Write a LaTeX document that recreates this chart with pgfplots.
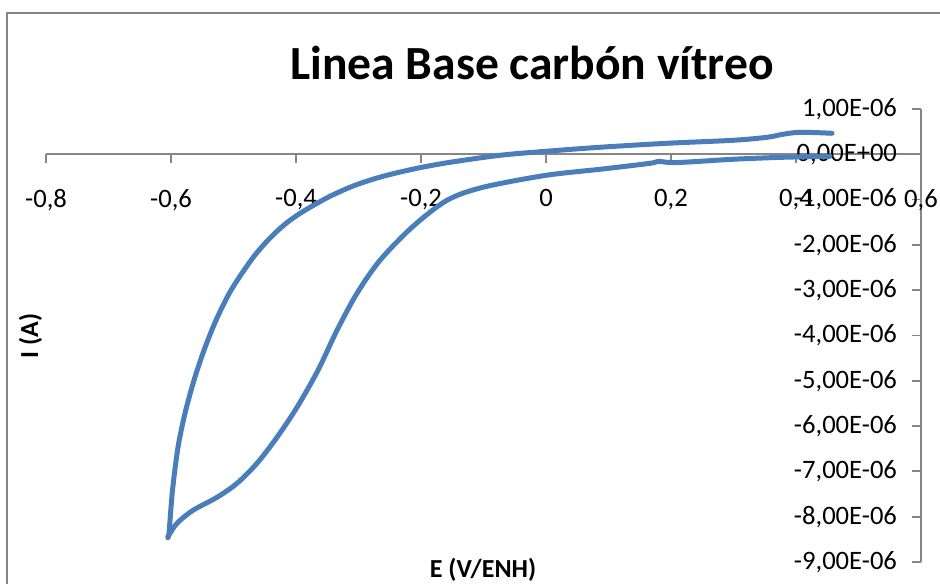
\documentclass[border=0pt]{standalone}
\usepackage{pgfplots}
\pgfplotsset{compat=1.18}
\usepackage{fontspec}
\setmainfont{Carlito}
\definecolor{cvblue}{HTML}{4A7EBB}
\definecolor{axgray}{HTML}{868686}
\begin{document}
\begin{tikzpicture}
\useasboundingbox (-23pt,-10.5pt) rectangle (447pt,281pt);
\begin{axis}[
  at={(0,0)}, anchor=south west,
  width=437.5pt, height=226.5pt, scale only axis,
  xmin=-0.8, xmax=0.6, ymin=-9e-6, ymax=1e-6,
  axis x line=middle, axis y line=right,
  axis line style={draw=axgray, line width=0.9pt, -},
  hide obscured x ticks=false, hide obscured y ticks=false,
  xtick={-0.8,-0.6,-0.4,-0.2,0,0.2,0.4,0.6},
  xticklabels={{-0,8},{-0,6},{-0,4},{-0,2},{0},{0,2},{0,4},{0,6}},
  ytick={-9e-6,-8e-6,-7e-6,-6e-6,-5e-6,-4e-6,-3e-6,-2e-6,-1e-6,0,1e-6},
  yticklabels={{-9,00E-06},{-8,00E-06},{-7,00E-06},{-6,00E-06},{-5,00E-06},{-4,00E-06},{-3,00E-06},{-2,00E-06},{-1,00E-06},{0,00E+00},{1,00E-06}},
  scaled y ticks=false, scaled x ticks=false,
  xtick align=outside, ytick align=inside,
  major tick length=4.5pt,
  tick style={draw=axgray, line width=0.9pt},
  tick label style={font=\fontsize{13.3}{15}\selectfont, text=black},
  xticklabel style={anchor=north, yshift=-9.5pt},
  yticklabel style={anchor=east, xshift=-8.5pt},
]
\addplot[cvblue, line width=2.5pt, smooth, line join=round, line cap=round] coordinates {
(0.4576,0.464e-6) (0.4064,0.486e-6) (0.3792,0.442e-6) (0.3536,0.375e-6) (0.2992,0.309e-6)
(0.1936,0.243e-6) (0.0864,0.155e-6) (0.000,0.066e-6) (-0.0736,-0.022e-6) (-0.1536,-0.177e-6)
(-0.2064,-0.309e-6) (-0.2608,-0.486e-6) (-0.3056,-0.684e-6) (-0.3456,-0.927e-6)
(-0.3856,-1.236e-6) (-0.4096,-1.457e-6) (-0.4288,-1.678e-6) (-0.4496,-1.965e-6)
(-0.472,-2.340e-6) (-0.504,-3.002e-6)
(-0.528,-3.664e-6) (-0.5472,-4.327e-6) (-0.5632,-4.989e-6) (-0.5776,-5.717e-6)
(-0.5888,-6.468e-6) (-0.5976,-7.417e-6) (-0.6032,-8.366e-6) (-0.6048,-8.433e-6)
(-0.5904,-8.146e-6) (-0.5648,-7.859e-6) (-0.5264,-7.572e-6) (-0.4944,-7.263e-6)
(-0.4624,-6.821e-6) (-0.4304,-6.247e-6) (-0.3984,-5.585e-6) (-0.3648,-4.768e-6)
(-0.3344,-3.885e-6) (-0.3024,-3.068e-6) (-0.2656,-2.340e-6) (-0.2144,-1.611e-6)
(-0.1584,-1.015e-6) (-0.1008,-0.728e-6) (0.000,-0.464e-6) (0.0864,-0.331e-6)
(0.1664,-0.199e-6) (0.1792,-0.155e-6) (0.1936,-0.177e-6) (0.2192,-0.177e-6)
(0.2992,-0.110e-6) (0.3792,-0.066e-6) (0.4544,-0.044e-6)
};
\end{axis}
\draw[axgray, line width=1pt] (-19.5pt,-12pt) -- (-19.5pt,274.5pt) -- (448pt,274.5pt);
\node[anchor=base, font=\fontsize{23.8}{28}\selectfont\bfseries] at (243pt,241pt) {Linea Base carbón vítreo};
\node[anchor=base, rotate=90, font=\fontsize{13}{15}\selectfont\bfseries] at (-4pt,113pt) {I (A)};
\node[anchor=base, font=\fontsize{13}{15}\selectfont\bfseries] at (218.5pt,-7.5pt) {E (V/ENH)};
\end{tikzpicture}
\end{document}
